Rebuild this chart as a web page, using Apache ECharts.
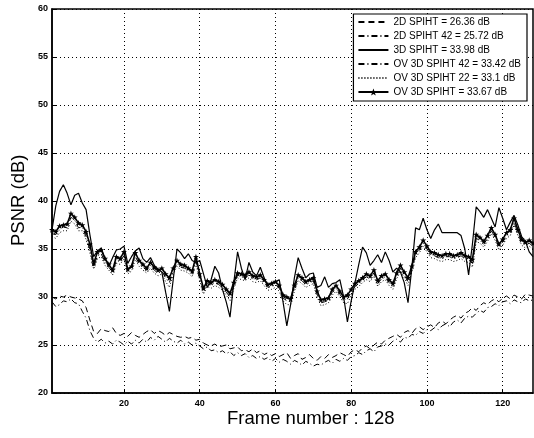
<!DOCTYPE html>
<html>
<head>
<meta charset="utf-8">
<script src="https://cdn.jsdelivr.net/npm/echarts@6/dist/echarts.min.js"></script>
<style>
  html, body { margin: 0; padding: 0; background: #fff; }
  #chart { width: 534px; height: 438px; }
</style>
</head>
<body>
<div id="chart"></div>
<script>
// frame numbers 1..128
var frames = [];
for (var f = 1; f <= 128; f++) frames.push(f);

var xTicks = [20, 40, 60, 80, 100, 120];

var names = [
  '2D SPIHT = 26.36 dB',
  '2D SPIHT 42 = 25.72 dB',
  '3D SPIHT = 33.98 dB',
  'OV 3D SPIHT 42 = 33.42 dB',
  'OV 3D SPIHT 22 = 33.1 dB',
  'OV 3D SPIHT = 33.67 dB'
];

var spiht2d = [
  30.0, 29.8, 30.1, 30.0, 30.2, 30.0, 29.9, 29.8, 29.6, 28.9,
  27.6, 26.4, 26.2, 26.7, 26.5, 26.4, 26.8, 26.2, 26.0, 26.2,
  25.9, 26.3, 26.0, 25.8, 26.1, 26.4, 26.6, 26.2, 26.5, 26.3,
  26.0, 26.3, 26.1, 25.9, 25.8, 25.9, 25.7, 25.8, 25.5, 25.6,
  25.2, 25.0, 24.9, 25.1, 24.8, 24.9, 25.0, 24.6, 24.7, 24.8,
  24.4, 24.5, 24.3, 24.6, 24.2, 24.4, 24.0, 24.2, 23.9, 24.1,
  23.8, 24.0, 24.2, 23.6, 23.9, 24.1, 23.5, 23.7, 24.0, 23.6,
  23.4, 23.8, 23.6, 24.0, 23.7, 23.9, 24.2, 24.0, 23.8, 24.3,
  24.5, 24.3, 24.7, 24.9, 24.6, 25.0, 25.3, 25.1, 25.5, 25.7,
  25.9, 26.1, 25.8, 26.3, 26.5, 26.2, 26.7, 26.9, 26.6, 26.9,
  27.1, 26.8, 27.3, 27.5, 27.2, 27.6, 27.9, 28.1, 27.8, 28.3,
  28.5, 28.9, 28.6, 29.1, 29.4, 29.2, 29.6, 29.8, 29.5, 29.9,
  30.1, 29.8, 30.2, 30.0, 29.8, 30.3, 30.2, 30.1
];

var spiht2d42 = [
  29.5, 29.0, 29.2, 29.6, 29.5, 29.8, 29.4, 29.3, 28.5, 27.8,
  26.5, 25.7, 25.3, 25.6, 25.2, 25.4, 25.1, 25.5, 25.3, 25.0,
  25.4, 25.1, 25.5, 25.2, 25.6, 25.3, 25.8, 25.5, 25.9, 25.6,
  25.3, 25.7, 25.4, 25.2, 25.5, 25.1, 25.3, 25.0, 25.2, 24.9,
  24.6, 24.8, 24.4, 24.5, 24.2, 24.4, 24.1, 24.3, 23.9, 24.2,
  23.9, 24.1, 23.7, 23.9, 23.6, 23.8, 23.5, 23.7, 23.3, 23.6,
  23.2, 23.5, 23.3, 23.0, 23.4, 23.2, 22.9, 23.3, 23.1, 22.8,
  23.0, 22.9, 23.2, 23.4, 23.1, 23.5, 23.3, 23.6, 23.4, 23.8,
  23.9, 24.2, 24.0, 24.4, 24.6, 24.3, 24.8, 24.9, 25.1, 25.0,
  25.4, 25.6, 25.3, 25.8, 25.7, 26.1, 26.0, 26.4, 26.2, 26.6,
  26.5, 26.8, 26.6, 27.0, 27.2, 26.9, 27.4, 27.6, 27.3, 27.8,
  28.0, 27.9, 28.3, 28.6, 28.4, 28.9, 29.0, 29.3, 29.1, 29.5,
  29.6, 29.3, 29.7, 29.5, 29.4, 29.8, 29.6, 29.7
];

var spiht3d = [
  37.0, 39.5, 41.0, 41.7, 40.8, 39.6, 40.6, 40.8, 39.8, 39.1,
  36.5, 34.2, 34.8, 35.1, 34.0, 33.2, 34.1, 34.9, 35.0, 35.3,
  33.5, 34.2, 34.8, 35.1, 34.0, 33.6, 34.1, 33.3, 32.9, 32.6,
  30.5, 28.5, 31.8, 35.0, 34.6, 34.0, 34.5, 33.8, 33.6, 33.8,
  32.4, 31.0, 31.8, 33.2, 32.5, 30.8, 29.5, 27.9, 31.5, 34.7,
  33.0, 31.8, 33.6, 32.6, 32.2, 33.1, 32.0, 31.2, 31.5, 31.6,
  31.8, 29.5, 27.0, 29.2, 32.0, 34.1, 33.0, 32.0, 32.4, 32.5,
  31.0, 31.2, 32.1, 31.0, 31.4, 31.5, 31.8, 30.0, 27.4, 29.6,
  31.5, 33.4, 35.2, 34.6, 33.3, 33.8, 34.4, 33.6, 34.7, 33.8,
  32.6, 33.0, 32.6, 31.5, 29.4, 33.0, 37.2, 37.0, 38.2, 37.0,
  36.1, 37.0, 37.6, 36.7, 36.7, 36.7, 36.7, 36.7, 36.4, 35.0,
  32.3, 35.5, 39.4, 38.9, 38.3, 39.1, 38.2, 37.3, 39.3, 38.2,
  37.0, 37.8, 38.5, 37.5, 36.3, 35.8, 34.7, 34.2
];

var ov3d42 = [
  36.6, 36.5, 37.0, 37.3, 37.2, 38.3, 38.0, 37.2, 37.3, 36.3,
  35.0, 33.2, 34.3, 34.5, 33.6, 33.1, 32.6, 33.8, 33.7, 34.3,
  32.7, 33.0, 34.2, 33.5, 33.1, 32.8, 33.3, 32.8, 32.5, 32.7,
  32.0, 31.5, 32.7, 33.5, 33.1, 33.0, 32.8, 32.4, 33.8, 32.0,
  30.6, 31.4, 31.2, 31.5, 31.3, 31.0, 30.5, 30.0, 31.2, 32.3,
  32.1, 32.0, 32.3, 31.9, 31.8, 32.0, 31.5, 31.0, 31.1, 31.3,
  30.9, 29.9, 29.6, 29.5, 30.9, 32.0, 31.7, 31.3, 31.5, 31.7,
  30.3, 29.4, 29.5, 29.7, 30.5, 30.9, 30.3, 29.7, 29.8, 30.5,
  31.1, 31.4, 31.8, 32.1, 31.9, 32.5, 31.4, 31.9, 32.1, 31.5,
  31.1, 32.2, 33.0, 32.3, 31.6, 32.9, 34.4, 34.9, 35.6, 35.0,
  34.4, 34.3, 34.1, 34.0, 34.2, 34.2, 34.0, 34.1, 34.3, 34.0,
  33.9, 33.5, 36.1, 35.9, 35.5, 36.1, 36.9, 36.2, 35.2, 35.7,
  36.4, 36.7, 37.8, 36.7, 35.7, 35.4, 35.6, 35.3
];

var ov3d22 = [
  36.3, 36.1, 36.7, 36.9, 36.9, 37.9, 37.6, 36.9, 36.9, 36.0,
  34.6, 32.9, 34.0, 34.2, 33.3, 32.8, 32.3, 33.5, 33.4, 34.0,
  32.4, 32.7, 33.9, 33.2, 32.8, 32.5, 33.0, 32.5, 32.2, 32.4,
  31.6, 31.0, 32.4, 33.2, 32.8, 32.7, 32.5, 32.1, 33.5, 31.7,
  30.3, 31.1, 30.9, 31.2, 31.0, 30.7, 30.2, 29.6, 30.9, 32.0,
  31.8, 31.7, 32.0, 31.6, 31.5, 31.7, 31.2, 30.7, 30.8, 31.0,
  30.6, 29.6, 29.2, 29.2, 30.6, 31.7, 31.4, 31.0, 31.2, 31.4,
  30.0, 29.1, 29.2, 29.4, 30.2, 30.6, 30.0, 29.4, 29.3, 30.2,
  30.8, 31.1, 31.5, 31.8, 31.6, 32.2, 31.1, 31.6, 31.8, 31.2,
  30.8, 31.9, 32.7, 32.0, 31.2, 32.6, 34.1, 34.6, 35.3, 34.7,
  34.1, 34.0, 33.8, 33.7, 33.9, 33.9, 33.7, 33.8, 34.0, 33.7,
  33.6, 33.1, 35.8, 35.6, 35.2, 35.8, 36.6, 35.9, 34.9, 35.4,
  36.1, 36.4, 37.5, 36.4, 35.4, 35.1, 35.3, 35.0
];

var ov3d = [
  37.0, 36.8, 37.4, 37.5, 37.6, 38.7, 38.3, 37.7, 37.5, 36.8,
  35.5, 33.5, 34.7, 34.9, 34.0, 33.4, 32.8, 34.2, 34.0, 34.7,
  32.9, 33.2, 34.6, 33.8, 33.4, 33.0, 33.6, 33.1, 32.8, 33.0,
  32.4, 32.0, 33.0, 33.8, 33.4, 33.3, 33.0, 32.7, 34.2, 32.4,
  30.9, 31.7, 31.5, 31.8, 31.6, 31.3, 30.8, 30.4, 31.5, 32.5,
  32.4, 32.3, 32.6, 32.2, 32.1, 32.3, 31.8, 31.3, 31.4, 31.6,
  31.2, 30.2, 30.0, 29.8, 31.2, 32.3, 32.0, 31.6, 31.8, 32.0,
  30.6, 29.7, 29.8, 29.9, 30.8, 31.2, 30.6, 30.0, 30.2, 30.8,
  31.4, 31.7, 32.0, 32.4, 32.2, 32.8, 31.7, 32.2, 32.4, 31.8,
  31.4, 32.5, 33.3, 32.6, 32.0, 33.2, 34.7, 35.2, 35.9, 35.3,
  34.7, 34.6, 34.4, 34.3, 34.5, 34.5, 34.3, 34.4, 34.6, 34.3,
  34.2, 33.9, 36.5, 36.2, 35.8, 36.4, 37.2, 36.5, 35.5, 36.0,
  36.7, 37.0, 38.2, 37.0, 36.0, 35.7, 35.9, 35.6
];

var starPath = 'path://M0,-10L2.5,-3L10,-3L4,1.5L6.5,9L0,4.5L-6.5,9L-4,1.5L-10,-3L-2.5,-3Z';

function pairs(vals) {
  var out = [];
  for (var i = 0; i < vals.length; i++) out.push([frames[i], vals[i]]);
  return out;
}

function lineSeries(name, vals, type, width, withStar) {
  return {
    name: name,
    type: 'line',
    data: pairs(vals),
    symbol: withStar ? starPath : 'none',
    symbolSize: withStar ? 6 : 0,
    showSymbol: !!withStar,
    itemStyle: { color: '#000' },
    lineStyle: { color: '#000', width: width, type: type },
    animation: false,
    z: withStar ? 5 : 3
  };
}

// legend entries: hide the marker for the plain lines, keep the star on the last one
var legendData = [];
for (var i = 0; i < names.length; i++) {
  if (i < 5) {
    legendData.push({ name: names[i], itemStyle: { opacity: 0 } });
  } else {
    legendData.push({ name: names[i] });
  }
}

var chart = echarts.init(document.getElementById('chart'), null, { renderer: 'canvas' });

var fontName = 'Liberation Sans, Arial, sans-serif';
var tickFont = { color: '#000', fontSize: 9, fontWeight: 'bold', fontFamily: fontName };
var gridDots = { color: '#000', width: 1, type: [1, 3] };

var option = {
  backgroundColor: '#fff',
  animation: false,
  grid: {
    left: 52, right: 1, top: 9, bottom: 45,
    show: true, borderColor: '#000', borderWidth: 1.5, backgroundColor: 'transparent'
  },
  legend: {
    orient: 'vertical',
    right: 7,
    top: 14,
    width: 164,
    itemWidth: 30,
    itemHeight: 9,
    itemGap: 4,
    padding: [3, 6, 4, 4],
    backgroundColor: '#fff',
    borderColor: '#000',
    borderWidth: 1.2,
    data: legendData,
    textStyle: { color: '#000', fontSize: 10, fontFamily: fontName },
    inactiveColor: '#000'
  },
  xAxis: {
    type: 'value',
    min: 1,
    max: 128,
    axisLine: { show: true, lineStyle: { color: '#000', width: 1.5 } },
    axisTick: { show: true, inside: true, length: 4, customValues: xTicks, lineStyle: { color: '#000' } },
    axisLabel: Object.assign({ customValues: xTicks, margin: 6 }, tickFont),
    splitLine: { show: true, lineStyle: gridDots }
  },
  yAxis: {
    type: 'value',
    min: 20,
    max: 60,
    interval: 5,
    axisLine: { show: true, lineStyle: { color: '#000', width: 1.5 } },
    axisTick: { show: true, inside: true, length: 4, lineStyle: { color: '#000' } },
    axisLabel: Object.assign({ margin: 4 }, tickFont),
    splitLine: { show: true, lineStyle: gridDots }
  },
  graphic: [
    {
      type: 'text', left: 227, top: 409,
      style: { text: 'Frame number : 128', fill: '#000', fontSize: 18.5, fontFamily: fontName }
    },
    {
      type: 'text', x: 9, y: 246, rotation: Math.PI / 2,
      style: { text: 'PSNR (dB)', fill: '#000', fontSize: 18.5, fontFamily: fontName }
    }
  ],
  series: [
    lineSeries(names[0], spiht2d, [6, 4], 1, false),
    lineSeries(names[1], spiht2d42, [6, 3, 1, 3], 1, false),
    lineSeries(names[2], spiht3d, 'solid', 1.2, false),
    lineSeries(names[3], ov3d42, [6, 3, 1, 3], 1, false),
    lineSeries(names[4], ov3d22, [1, 2], 1, false),
    lineSeries(names[5], ov3d, 'solid', 1.6, true)
  ]
};

chart.setOption(option);
</script>
</body>
</html>
